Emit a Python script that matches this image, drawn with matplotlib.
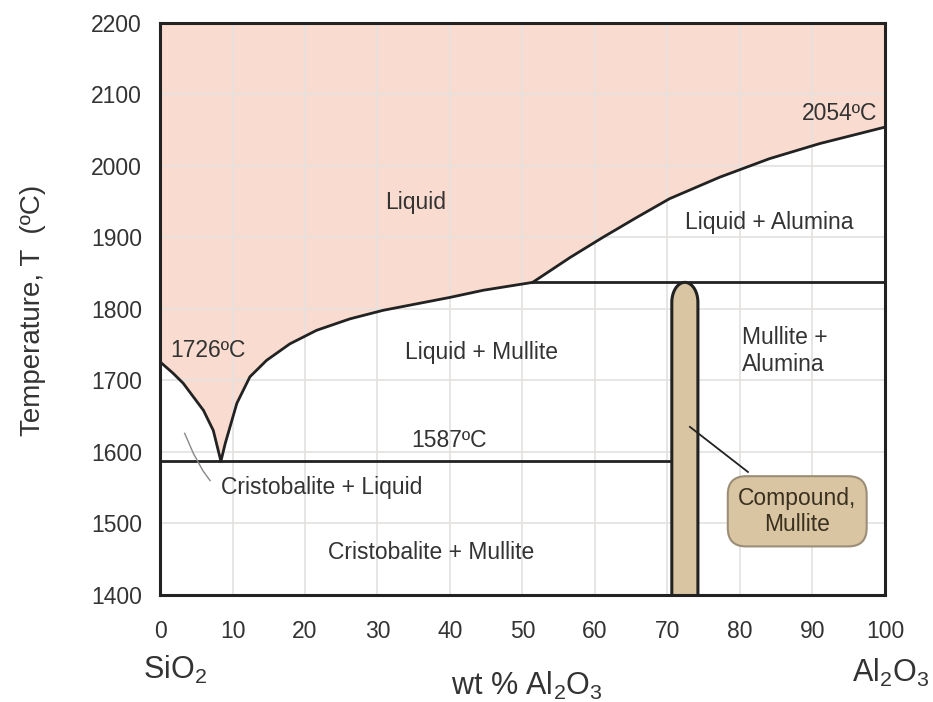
import matplotlib.pyplot as plt
import numpy as np

plt.rcParams['font.family'] = ['Liberation Sans', 'DejaVu Sans']
plt.rcParams['mathtext.default'] = 'regular'

# liquidus branches (wt % Al2O3, T in C)
left_x = [0, 1.8, 3.2, 6.0, 7.35, 8.4]
left_t = [1726, 1710, 1696, 1658, 1630, 1587]
mid_x = [8.4, 9.0, 10.6, 12.4, 14.7, 17.9, 21.6, 26.2, 30.8, 35.4, 40, 44.6, 51.4]
mid_t = [1587, 1612, 1668, 1705, 1728, 1751, 1770, 1786, 1798, 1807, 1816, 1826, 1837]
top_x = [51.4, 56.6, 61.1, 65.8, 70.3, 77.2, 84.1, 91, 100]
top_t = [1837, 1872, 1900, 1928, 1954, 1984, 2010, 2031, 2054]

t_eutectic = 1587
t_peritectic = 1837
mullite_left = 70.6
mullite_right = 74.2

x_ticks = [0, 10, 20, 30, 40, 50, 60, 70, 80, 90, 100]
y_ticks = [1400, 1500, 1600, 1700, 1800, 1900, 2000, 2100, 2200]

ink = '#222222'
txt = '#333333'
pink = '#f9dccf'
tan = '#d9c5a2'
fs = 16.5

fig = plt.figure(figsize=(9.33, 7.02), dpi=100)
ax = fig.add_axes([0.1715, 0.1524, 0.777, 0.8153])

# liquid region
lx = np.array(left_x + mid_x[1:] + top_x[1:])
lt = np.array(left_t + mid_t[1:] + top_t[1:])
ax.fill_between(lx, lt, 2200, color=pink, lw=0, zorder=0.3)

for xs, ts in [(left_x, left_t), (mid_x, mid_t), (top_x, top_t)]:
    ax.plot(xs, ts, color=ink, lw=2, zorder=3, solid_joinstyle='round')

# invariant lines
ax.plot([0, mullite_left], [t_eutectic, t_eutectic], color=ink, lw=2, zorder=3)
ax.plot([mid_x[-1], 100], [t_peritectic, t_peritectic], color=ink, lw=2, zorder=3)

# mullite band with rounded top
xc = (mullite_left + mullite_right) / 2
a = (mullite_right - mullite_left) / 2
b = 28
th = np.linspace(np.pi, 0, 60)
bx = np.concatenate([[mullite_left], xc + a * np.cos(th), [mullite_right]])
bt = np.concatenate([[1400], t_peritectic - b + b * np.sin(th), [1400]])
ax.fill(bx, bt, color=tan, zorder=4, lw=0)
ax.plot(bx, bt, color=ink, lw=2.2, zorder=5)

# leader to compound box
ax.plot([73.1, 81.1], [1635, 1572], color=ink, lw=1.3, zorder=6)
ax.text(87.9, 1517, 'Compound,\nMullite', ha='center', va='center', fontsize=fs,
        color='#3a3020', linespacing=1.2, zorder=7,
        bbox=dict(boxstyle='round,pad=0.45,rounding_size=0.8', fc=tan, ec='#9c8e76', lw=1.5))

# small leader for cristobalite + liquid
cx = [3.4, 4.6, 5.9, 6.9]
ct = [1626, 1598, 1574, 1560]
ax.plot(cx, ct, color='#888888', lw=1, zorder=3)

labels = [
    (35.3, 1949, 'Liquid', 'center'),
    (84.1, 1920, 'Liquid + Alumina', 'center'),
    (44.3, 1739, 'Liquid + Mullite', 'center'),
    (80.3, 1741, 'Mullite +\nAlumina', 'left'),
    (39.9, 1616, '1587ºC', 'center'),
    (22.3, 1550, 'Cristobalite + Liquid', 'center'),
    (37.4, 1459, 'Cristobalite + Mullite', 'center'),
    (1.4, 1742, '1726ºC', 'left'),
    (98.9, 2073, '2054ºC', 'right'),
]
for x, t, s, ha in labels:
    ax.text(x, t, s, ha=ha, va='center', fontsize=fs, color=txt, linespacing=1.2, zorder=6)

ax.set_xlim(0, 100)
ax.set_ylim(1400, 2200)
ax.set_xticks(x_ticks)
ax.set_yticks(y_ticks)
ax.set_axisbelow(True)
ax.grid(True, color='#e4e2e0', lw=1.2)
ax.tick_params(length=0, labelsize=fs, labelcolor=txt)
ax.tick_params(axis='x', pad=18)
ax.tick_params(axis='y', pad=13)
for sp in ax.spines.values():
    sp.set_color(ink)
    sp.set_linewidth(2.2)
    sp.set_zorder(8)

fig.text(0.0354, 0.558, 'Temperature, T  (ºC)', rotation=90, ha='center', va='center',
         fontsize=20, color=txt)
fig.text(0.5643, 0.01, 'wt % Al$_2$O$_3$', ha='center', va='baseline', fontsize=22, color=txt)
fig.text(0.1876, 0.0328, 'SiO$_2$', ha='center', va='baseline', fontsize=22, color=txt)
fig.text(0.955, 0.0285, 'Al$_2$O$_3$', ha='center', va='baseline', fontsize=22, color=txt)

fig.savefig('out.png', dpi=100)
